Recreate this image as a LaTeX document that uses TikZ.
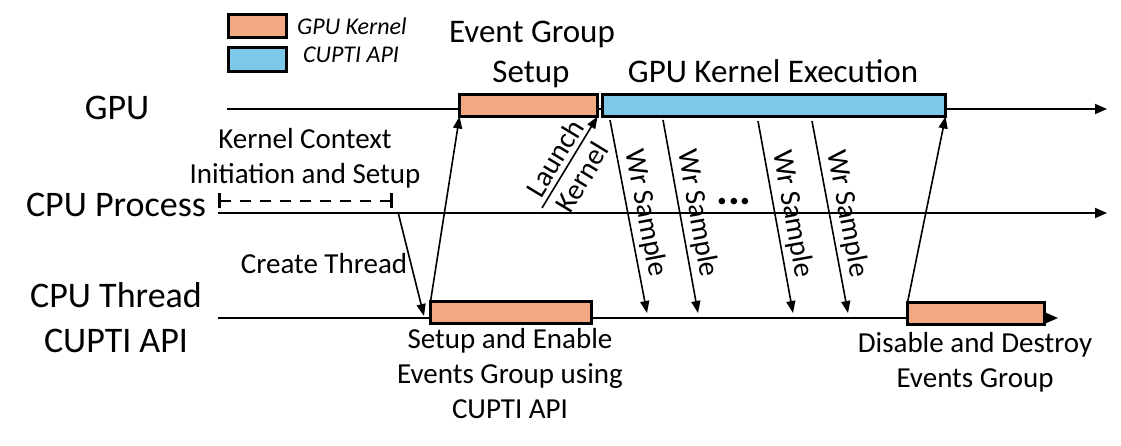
\documentclass[tikz,border=0pt]{standalone}
\usepackage{fontspec}
\setmainfont{Carlito}
\usetikzlibrary{arrows.meta,calc}
\definecolor{kernelorange}{RGB}{242,169,131}
\definecolor{cuptiblue}{RGB}{125,199,232}
\begin{document}
\begin{tikzpicture}[x=1pt,y=-1pt,
  timeline/.style={line width=1.8pt,-{Triangle[length=12pt,width=10pt]}},
  msg/.style={line width=1.6pt,-{Triangle[length=12pt,width=9pt]}},
  bar/.style={draw,line width=3pt,inner sep=0pt,outer sep=0pt,minimum height=22pt},
  kbar/.style={bar,fill=kernelorange},
  cbar/.style={bar,fill=cuptiblue},
  rowlabel/.style={font=\fontsize{36}{40}\selectfont,anchor=base,inner sep=0pt},
  head/.style={font=\fontsize{33}{38}\selectfont,anchor=base,inner sep=0pt},
  body/.style={font=\fontsize{29}{35}\selectfont,anchor=base,inner sep=0pt,align=center},
  legtext/.style={font=\fontsize{24}{28}\selectfont\itshape,anchor=base west,inner sep=0pt},
  wrlabel/.style={font=\fontsize{29}{35}\selectfont,midway,sloped,above=4pt,inner sep=0pt},
]
\useasboundingbox (0,0) rectangle (1121,446);

% legend
\node[kbar,minimum width=58pt,minimum height=23pt] (legK) at (257.5,26) {};
\node[cbar,minimum width=58pt,minimum height=24pt] (legC) at (257.5,59.5) {};
\node[legtext] (legKt) at (297,35) {GPU Kernel};
\node[legtext] (legCt) at (303,63) {CUPTI API};

% row labels
\node[rowlabel] (lgpu) at (117,120) {GPU};
\node[rowlabel] (lproc) at (116,217) {CPU Process};
\node[rowlabel] (lthr1) at (116,307) {CPU Thread};
\node[rowlabel] (lthr2) at (116,352) {CUPTI API};

% timelines
\coordinate (gpuL) at (227,109);  \coordinate (gpuR) at (1107,109);
\coordinate (procL) at (218,213); \coordinate (procR) at (1107,213);
\coordinate (thrL) at (218,318);  \coordinate (thrR) at (1058,318);
\draw[timeline] (gpuL) -- (gpuR);
\draw[timeline] (procL) -- (procR);
\draw[timeline] (thrL) -- (thrR);

% activity bars
\node[kbar,minimum width=138pt] (gk) at (528.5,105.5) {};
\node[cbar,minimum width=343pt] (exec) at (774,105.5) {};
\node[kbar,minimum width=161pt] (tb1) at (511,312.5) {};
\node[kbar,minimum width=137pt] (tb2) at (976,313.5) {};

% headings over the GPU row
\node[head] (hEvt) at (532,43) {Event Group};
\node[head] (hSet) at (531,83) {Setup};
\node[head] (hExec) at (773,83) {GPU Kernel Execution};

% kernel context phase on the CPU process
\coordinate (dashL) at (218,201);
\coordinate (dashR) at (393,201);
\draw[line width=2.8pt,dash pattern=on 11pt off 9pt,
  {Bar[width=15pt,line width=2.8pt]}-{Bar[width=15pt,line width=2.8pt]}] (dashL) -- (dashR);
\node[body] (kctx) at (305,184) {Kernel Context\\Initiation and Setup};

% thread creation and setup
\coordinate (ctS) at (398,212);
\coordinate (ctE) at (424,316);
\draw[msg] (ctS) -- (ctE);
\node[body] (ctLbl) at (324,273) {Create Thread};
\draw[msg] (tb1.north west) -- (gk.south west);

% kernel launch
\coordinate (lkS) at (542,208);
\draw[msg] (lkS) -- (gk.south east)
  node[pos=0.46,sloped,above=4pt,inner sep=0pt,font=\fontsize{29}{35}\selectfont] (lkA) {Launch}
  node[pos=0.44,sloped,below=7pt,inner sep=0pt,font=\fontsize{29}{35}\selectfont] (lkB) {Kernel};

% sample writes
\coordinate (w1s) at (610,120); \coordinate (w1e) at (647,313);
\coordinate (w2s) at (663,120); \coordinate (w2e) at (698,313);
\coordinate (w3s) at (758,121); \coordinate (w3e) at (793,313);
\coordinate (w4s) at (812,121); \coordinate (w4e) at (848,313);
\draw[msg] (w1s) -- (w1e) node[wrlabel] (wl1) {Wr Sample};
\draw[msg] (w2s) -- (w2e) node[wrlabel] (wl2) {Wr Sample};
\draw[msg] (w3s) -- (w3e) node[wrlabel] (wl3) {Wr Sample};
\draw[msg] (w4s) -- (w4e) node[wrlabel] (wl4) {Wr Sample};
\node[font=\fontsize{44}{44}\selectfont\bfseries,inner sep=0pt] (dots) at (734,202) {...};

% teardown
\draw[msg] (tb2.north west) -- (exec.south east);

% bar captions
\node[body] (setLbl) at (510,418) {Setup and Enable\\Events Group using\\CUPTI API};
\node[body] (disLbl) at (975,387) {Disable and Destroy\\Events Group};
\end{tikzpicture}
\end{document}
